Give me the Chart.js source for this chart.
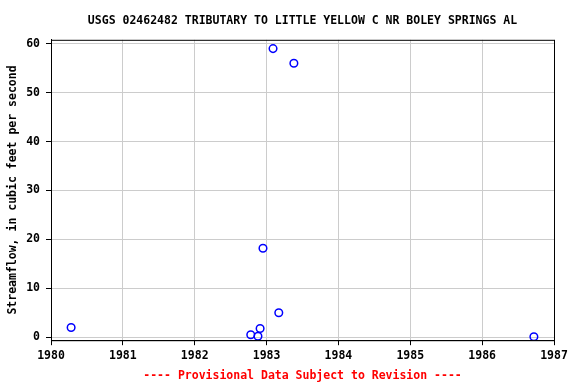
<!DOCTYPE html>
<html>
<head>
<meta charset="utf-8">
<script src="https://cdn.jsdelivr.net/npm/chart.js@4/dist/chart.umd.min.js"></script>
<style>
  html, body { margin: 0; padding: 0; background: #fff; }
  #wrap { width: 576px; height: 384px; }
</style>
</head>
<body>
<div id="wrap"><canvas id="flowChart"></canvas></div>
<script>
// measurement dates (decimal years) and streamflow (cfs)
const sampleYears = [1980.28, 1982.78, 1982.88, 1982.91, 1982.95, 1983.09, 1983.17, 1983.38, 1986.72];
const flowValues = [2.0, 0.5, 0.2, 1.8, 18.2, 59.0, 5.0, 56.0, 0.1];
const yearTicks = [1980, 1981, 1982, 1983, 1984, 1985, 1986, 1987];
const flowTicks = [0, 10, 20, 30, 40, 50, 60];

const chartTitle = 'USGS 02462482 TRIBUTARY TO LITTLE YELLOW C NR BOLEY SPRINGS AL';
const footerText = '---- Provisional Data Subject to Revision ----';
const yAxisTitle = 'Streamflow, in cubic feet per second';

const monoFont = '"DejaVu Sans Mono", "Liberation Mono", monospace';

// black frame around the plot area
const frameBox = {
    id: 'frameBox',
    afterDatasetsDraw(chart) {
        const a = chart.chartArea;
        const ctx = chart.ctx;
        ctx.save();
        ctx.strokeStyle = '#000';
        ctx.lineWidth = 1;
        ctx.strokeRect(a.left + 0.5, a.top + 0.5, a.right - a.left, a.bottom - a.top);
        ctx.restore();
    }
};

const points = sampleYears.map((yr, i) => ({ x: yr, y: flowValues[i] }));

const ctx = document.getElementById('flowChart').getContext('2d');
const flowChart = new Chart(ctx, {
    type: 'scatter',
    data: {
        datasets: [{
            data: points,
            pointStyle: 'circle',
            pointRadius: 3.8,
            pointBorderWidth: 1.5,
            pointBorderColor: '#0000ff',
            pointBackgroundColor: 'rgba(0,0,0,0)'
        }]
    },
    options: {
        responsive: true,
        maintainAspectRatio: false,
        animation: false,
        layout: { padding: { left: 0, right: 22, top: 0, bottom: 0 } },
        plugins: {
            legend: { display: false },
            tooltip: { enabled: false },
            title: {
                display: true,
                text: chartTitle,
                fullSize: false,
                color: '#000',
                font: { family: monoFont, size: 11.5, weight: 'bold' },
                padding: { top: 14, bottom: 12 }
            },
            subtitle: {
                display: true,
                position: 'bottom',
                text: footerText,
                fullSize: false,
                color: '#ff0000',
                font: { family: monoFont, size: 11.5, weight: 'bold' },
                padding: { top: 0, bottom: 1 }
            }
        },
        scales: {
            x: {
                type: 'linear',
                min: 1980,
                max: 1987,
                afterBuildTicks: axis => { axis.ticks = yearTicks.map(v => ({ value: v })); },
                afterFit: axis => { axis.height = 29; },
                grid: { color: '#cccccc', tickColor: '#000', tickLength: 5 },
                border: { color: '#000' },
                ticks: {
                    color: '#000',
                    padding: 4,
                    maxRotation: 0,
                    font: { family: monoFont, size: 11.5, weight: 'bold' },
                    callback: v => String(v)
                }
            },
            y: {
                min: -0.6,
                max: 60.8,
                afterBuildTicks: axis => { axis.ticks = flowTicks.map(v => ({ value: v })); },
                afterFit: axis => { axis.width = 51; },
                grid: { color: '#cccccc', tickColor: '#000', tickLength: 5 },
                border: { color: '#000' },
                title: {
                    display: true,
                    text: yAxisTitle,
                    color: '#000',
                    font: { family: monoFont, size: 11.5, weight: 'bold' },
                    padding: { top: 6, bottom: 0 }
                },
                ticks: {
                    color: '#000',
                    padding: 6,
                    font: { family: monoFont, size: 11.5, weight: 'bold' }
                }
            }
        }
    },
    plugins: [frameBox]
});
</script>
</body>
</html>
